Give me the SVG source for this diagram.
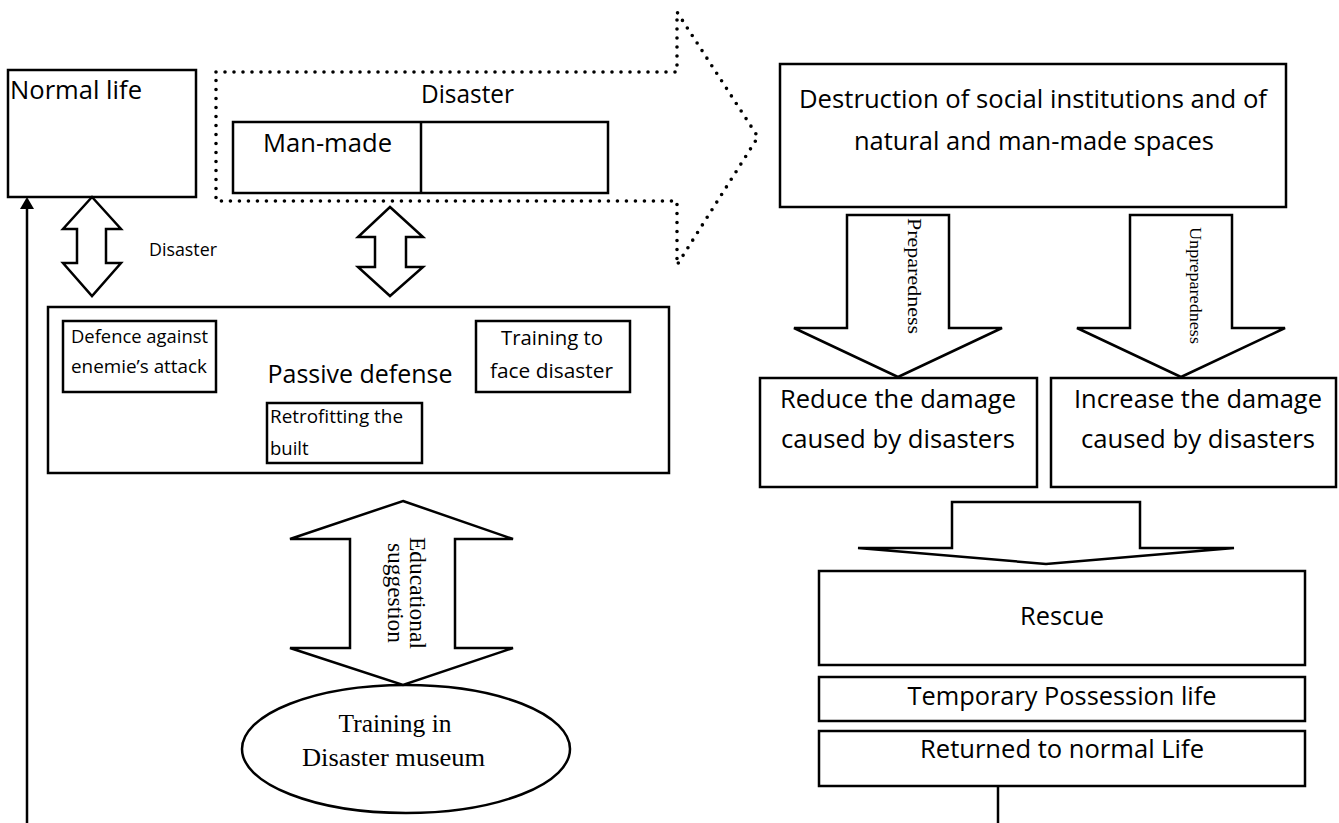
<svg xmlns="http://www.w3.org/2000/svg" width="1339" height="823" viewBox="0 0 1339 823">
<style>
.box{fill:#fff;stroke:#000;stroke-width:2.5}
.shape{fill:#fff;stroke:#000;stroke-width:2.5;stroke-linejoin:miter}
.dot{fill:none;stroke:#000;stroke-width:3.6;stroke-dasharray:0 9;stroke-linecap:round;stroke-linejoin:round}
.t{font-family:"Open Sans","Liberation Sans",sans-serif;fill:#000}
.s{font-family:"Liberation Serif","Times New Roman",serif;fill:#000}
.line{stroke:#000;stroke-width:2.5;fill:none}
.big{font-size:25.5px}
.mid{font-size:20.5px}
.sm{font-size:18.5px}
</style>
<defs>
<marker id="ah" viewBox="0 0 12 14" refX="4" refY="7" markerWidth="12" markerHeight="14" markerUnits="userSpaceOnUse" orient="auto">
<path d="M0,0 L12,7 L0,14 Z" fill="#000"/>
</marker>
</defs>
<rect width="1339" height="823" fill="#fff"/>

<g id="normal-life">
<rect class="box" x="8" y="70" width="188" height="127"/>
<text class="t big" x="10" y="99" textLength="132" lengthAdjust="spacingAndGlyphs">Normal life</text>
</g>

<g id="disaster">
<path class="dot" d="M216,72 L677,72 L677,12 L758,137 L677,265 L677,201 L216,201 Z"/>
<text class="t big" x="467.5" y="103" text-anchor="middle" textLength="93" lengthAdjust="spacingAndGlyphs">Disaster</text>
</g>

<g id="disaster-types">
<rect class="box" x="233" y="122" width="375" height="71"/>
<line class="line" x1="421" y1="122" x2="421" y2="193"/>
<text class="t big" x="327.5" y="152" text-anchor="middle" textLength="129" lengthAdjust="spacingAndGlyphs">Man-made</text>
</g>

<g id="destruction">
<rect class="box" x="780" y="64" width="506" height="143"/>
<text class="t big" x="1033" y="108" text-anchor="middle" textLength="468" lengthAdjust="spacingAndGlyphs">Destruction of social institutions and of</text>
<text class="t big" x="1034" y="150" text-anchor="middle" textLength="360" lengthAdjust="spacingAndGlyphs">natural and man-made spaces</text>
</g>

<g id="passive-defense">
<rect class="box" x="48" y="307" width="621" height="166"/>
<text class="t big" x="360" y="383" text-anchor="middle" textLength="185" lengthAdjust="spacingAndGlyphs">Passive defense</text>
</g>

<g id="defence-attack">
<rect class="box" x="63" y="321" width="153" height="71"/>
<text class="t sm" x="71" y="343" textLength="137" lengthAdjust="spacingAndGlyphs">Defence against</text>
<text class="t sm" x="71" y="373" textLength="136" lengthAdjust="spacingAndGlyphs">enemie’s attack</text>
</g>

<g id="training-face">
<rect class="box" x="476" y="321" width="154" height="71"/>
<text class="t mid" x="552" y="345" text-anchor="middle" textLength="102" lengthAdjust="spacingAndGlyphs">Training to</text>
<text class="t mid" x="551.5" y="378" text-anchor="middle" textLength="123" lengthAdjust="spacingAndGlyphs">face disaster</text>
</g>

<g id="retrofitting">
<rect class="box" x="267" y="403" width="155" height="60"/>
<text class="t sm" x="270" y="423" textLength="133" lengthAdjust="spacingAndGlyphs">Retrofitting the</text>
<text class="t sm" x="270" y="455">built</text>
</g>

<g id="museum">
<ellipse class="box" cx="406" cy="749" rx="164" ry="64"/>
<text class="s" font-size="26" x="395" y="732" text-anchor="middle" textLength="113" lengthAdjust="spacingAndGlyphs">Training in</text>
<text class="s" font-size="26" x="393.5" y="766" text-anchor="middle" textLength="183" lengthAdjust="spacingAndGlyphs">Disaster museum</text>
</g>

<g id="reduce">
<rect class="box" x="760" y="378" width="277" height="109"/>
<text class="t big" x="898" y="408" text-anchor="middle" textLength="236" lengthAdjust="spacingAndGlyphs">Reduce the damage</text>
<text class="t big" x="898" y="448" text-anchor="middle" textLength="234" lengthAdjust="spacingAndGlyphs">caused by disasters</text>
</g>

<g id="increase">
<rect class="box" x="1051" y="378" width="285" height="109"/>
<text class="t big" x="1198" y="408" text-anchor="middle" textLength="248" lengthAdjust="spacingAndGlyphs">Increase the damage</text>
<text class="t big" x="1198" y="448" text-anchor="middle" textLength="234" lengthAdjust="spacingAndGlyphs">caused by disasters</text>
</g>

<g id="rescue">
<rect class="box" x="819" y="571" width="486" height="94"/>
<text class="t big" x="1062" y="625" text-anchor="middle" textLength="84" lengthAdjust="spacingAndGlyphs">Rescue</text>
</g>

<g id="temporary">
<rect class="box" x="819" y="677" width="486" height="44"/>
<text class="t big" x="1062" y="705" text-anchor="middle" textLength="309" lengthAdjust="spacingAndGlyphs">Temporary Possession life</text>
</g>

<g id="returned">
<rect class="box" x="819" y="731" width="486" height="55"/>
<text class="t big" x="1062" y="758" text-anchor="middle" textLength="284" lengthAdjust="spacingAndGlyphs">Returned to normal Life</text>
</g>

<g id="connectors">
<path class="shape" d="M92,197 L121,229 L106,229 L106,263 L121,263 L92,296 L63,263 L77,263 L77,229 L63,229 Z"/>
<text class="t" font-size="18" x="149" y="256" textLength="68" lengthAdjust="spacingAndGlyphs">Disaster</text>
<path class="shape" d="M390,207 L423,237 L406,237 L406,267 L423,267 L390,296 L358,267 L375,267 L375,237 L358,237 Z"/>
<path class="shape" d="M403,501 L513,539 L455,539 L455,648 L513,648 L403,685 L290,648 L350,648 L350,539 L290,539 Z"/>
<text class="s" font-size="24" transform="translate(410,593) rotate(90)" text-anchor="middle" textLength="112" lengthAdjust="spacingAndGlyphs">Educational</text>
<text class="s" font-size="23.5" transform="translate(388,593) rotate(90)" text-anchor="middle" textLength="100" lengthAdjust="spacingAndGlyphs">suggestion</text>
<path class="shape" d="M847,215 L949,215 L949,328 L1002,328 L898,377 L794,328 L847,328 Z"/>
<text class="s" font-size="18" transform="translate(908,276) rotate(90)" text-anchor="middle" textLength="116" lengthAdjust="spacingAndGlyphs">Preparedness</text>
<path class="shape" d="M1130,215 L1232,215 L1232,328 L1285,328 L1181,377 L1077,328 L1130,328 Z"/>
<text class="s" font-size="16.5" transform="translate(1190,285.5) rotate(90)" text-anchor="middle" textLength="117" lengthAdjust="spacingAndGlyphs">Unpreparedness</text>
<path class="shape" d="M952,502 L1140,502 L1140,548 L1234,548 L1046,564 L858,548 L952,548 Z"/>
<line class="line" x1="998" y1="786" x2="998" y2="823"/>
<line class="line" x1="27" y1="823" x2="27" y2="205" marker-end="url(#ah)"/>
</g>
</svg>
